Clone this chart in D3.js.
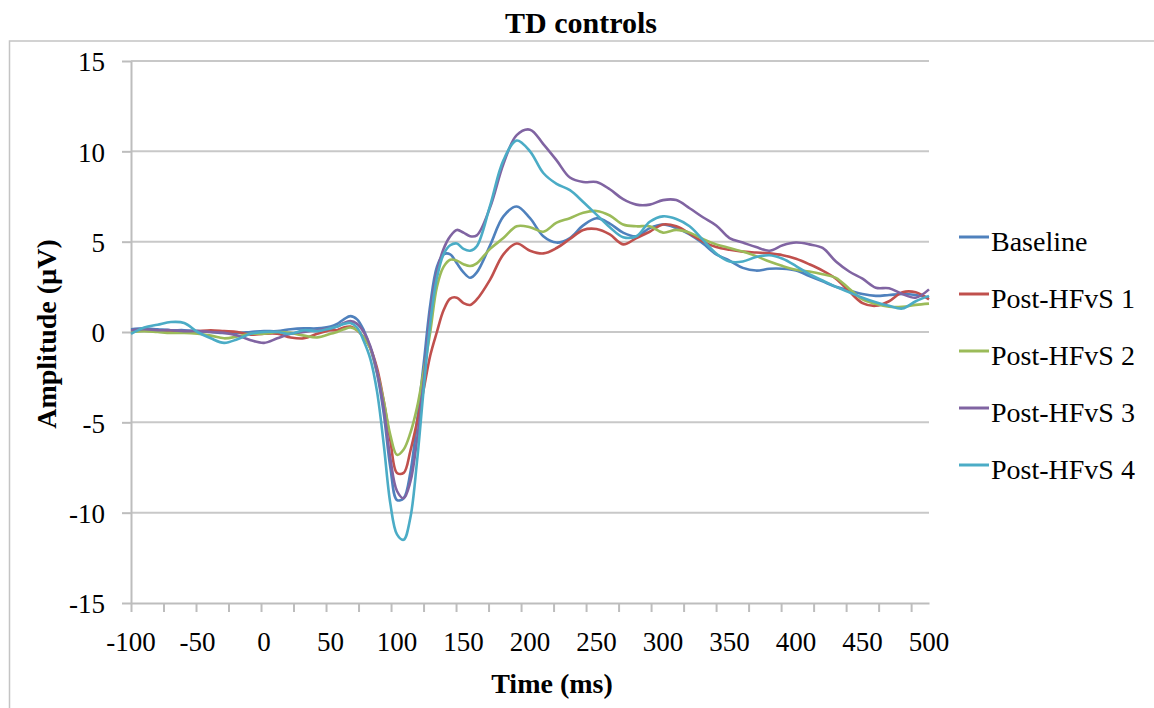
<!DOCTYPE html>
<html>
<head>
<meta charset="utf-8">
<script src="https://cdn.jsdelivr.net/npm/d3@7"></script>
<style>
  body { margin: 0; background: #fff; }
  svg text { font-family: "Liberation Serif", "Times New Roman", Times, serif; fill: #000; }
</style>
</head>
<body>
<div id="chart"></div>
<script>
// time points (ms)
const times = [-100,-90,-80,-70,-60,-50,-40,-30,-20,-10,0,10,20,30,40,50,
  55,60,65,70,75,80,85,90,95,100,105,110,115,120,125,130,135,140,145,150,155,160,
  170,180,190,200,210,220,230,240,250,260,270,280,290,300,310,320,330,340,350,360,
  370,380,390,400,410,420,430,440,450,460,470,480,490,500];

const baseline = [0.15,0.2,0.15,0.1,0.1,0.05,0.0,-0.05,-0.05,0.0,0.05,0.05,0.15,0.2,0.2,0.3,
  0.45,0.7,0.88,0.7,0.1,-0.9,-2.3,-4.5,-7.5,-9.3,-9.2,-7.8,-5.0,-1.8,1.5,3.6,4.3,4.3,3.8,3.3,3.0,3.3,
  4.8,6.4,6.95,6.3,5.3,4.95,5.2,5.9,6.3,6.0,5.5,5.3,5.75,5.95,5.75,5.4,4.9,4.3,3.95,3.55,
  3.4,3.5,3.5,3.4,3.1,2.8,2.5,2.3,2.1,2.0,2.05,2.1,2.05,1.9];

const post1 = [0.05,0.1,0.05,0.05,0.0,0.05,0.1,0.05,0.0,-0.15,-0.1,-0.1,-0.3,-0.35,-0.1,0.1,
  0.1,0.25,0.3,0.1,-0.3,-0.9,-2.0,-3.8,-6.0,-7.8,-7.8,-6.6,-5.0,-3.2,-1.3,0.0,1.2,1.85,1.9,1.6,1.5,1.8,
  2.9,4.3,4.9,4.5,4.35,4.65,5.15,5.65,5.7,5.4,4.85,5.2,5.55,5.95,5.85,5.45,5.0,4.7,4.55,4.45,
  4.4,4.35,4.25,4.05,3.75,3.4,2.95,2.25,1.6,1.45,1.7,2.2,2.2,1.8];

const post2 = [0.0,0.05,0.0,-0.05,-0.05,-0.1,-0.2,-0.35,-0.25,-0.1,-0.1,0.0,-0.05,-0.2,-0.3,-0.1,
  0.0,0.15,0.25,0.1,-0.3,-0.9,-2.2,-3.8,-5.7,-6.8,-6.5,-5.6,-4.2,-2.2,0.0,2.5,3.6,4.0,3.95,3.75,3.65,3.8,
  4.6,5.2,5.85,5.8,5.55,6.05,6.3,6.6,6.7,6.45,5.95,5.85,5.85,5.5,5.65,5.5,5.15,4.85,4.65,4.45,
  4.2,3.9,3.65,3.45,3.35,3.2,3.0,2.4,1.8,1.55,1.4,1.4,1.5,1.57];

const post3 = [0.1,0.15,0.1,0.1,0.05,0.05,0.0,-0.05,-0.2,-0.45,-0.6,-0.35,-0.1,0.0,0.1,0.2,
  0.3,0.5,0.6,0.45,0.0,-0.8,-2.2,-4.2,-7.0,-8.8,-9.2,-8.3,-6.0,-2.8,1.0,3.3,4.6,5.3,5.65,5.5,5.3,5.35,
  6.9,9.3,10.9,11.2,10.4,9.5,8.55,8.3,8.3,7.9,7.35,7.05,7.05,7.3,7.3,6.85,6.35,5.9,5.2,4.95,
  4.7,4.5,4.8,4.95,4.85,4.65,3.9,3.35,2.95,2.45,2.42,2.1,1.9,2.36];

const post4 = [-0.1,0.25,0.4,0.55,0.5,0.0,-0.35,-0.6,-0.4,-0.1,0.0,0.0,-0.1,0.1,0.05,0.2,
  0.3,0.45,0.5,0.25,-0.5,-1.5,-3.3,-6.2,-9.5,-11.2,-11.5,-10.3,-7.2,-3.2,0.5,3.0,4.3,4.8,4.9,4.6,4.5,4.75,
  7.0,9.5,10.6,10.0,8.8,8.2,7.85,7.2,6.5,5.8,5.25,5.3,6.1,6.4,6.25,5.85,5.1,4.35,3.9,3.9,
  4.15,4.25,4.05,3.65,3.2,2.85,2.5,2.2,1.9,1.65,1.45,1.3,1.7,2.0];

const seriesNames = ["Baseline", "Post-HFvS 1", "Post-HFvS 2", "Post-HFvS 3", "Post-HFvS 4"];
const seriesValues = [baseline, post1, post2, post3, post4];
const seriesColors = ["#4f81bd", "#c0504d", "#9bbb59", "#8064a2", "#4bacc6"];

const yTicks = [-15, -10, -5, 0, 5, 10, 15];
const xLabels = [-100, -50, 0, 50, 100, 150, 200, 250, 300, 350, 400, 450, 500];
const xTickStep = 24.44; // tick marks of the category axis

const W = 1154, H = 708;
const plot = { left: 131, right: 929, top: 61, bottom: 603 };
const serif = "Liberation Serif";

const svg = d3.select("#chart").append("svg")
  .attr("width", W).attr("height", H);

// outer chart frame
svg.append("rect")
  .attr("x", 9.5).attr("y", 41)
  .attr("width", W + 20).attr("height", H)
  .attr("fill", "none").attr("stroke", "#c4c4c4").attr("stroke-width", 1.5);

svg.append("text")
  .attr("x", 581).attr("y", 33)
  .attr("text-anchor", "middle")
  .attr("font-family", serif)
  .style("font-size", "30px").style("font-weight", "bold")
  .text("TD controls");

const x = d3.scaleLinear().domain([-100, 500]).range([plot.left, plot.right]);
const y = d3.scaleLinear().domain([-15, 15]).range([plot.bottom, plot.top]);

// gridlines
svg.append("g")
  .selectAll("line")
  .data(yTicks.filter(d => d > -15))
  .join("line")
  .attr("x1", plot.left).attr("x2", plot.right)
  .attr("y1", d => y(d)).attr("y2", d => y(d))
  .attr("stroke", "#c8c8c8").attr("stroke-width", 2);

// y axis
const yAxis = svg.append("g")
  .attr("transform", `translate(${plot.left},0)`)
  .call(d3.axisLeft(y).tickValues(yTicks).tickFormat(d => String(d))
    .tickSize(9).tickPadding(17).tickSizeOuter(0));
yAxis.attr("font-family", serif);
yAxis.select(".domain").attr("stroke", "#bdbdbd").attr("stroke-width", 2);
yAxis.selectAll(".tick line").attr("stroke", "#bdbdbd").attr("stroke-width", 2);
yAxis.selectAll(".tick text")
  .attr("dy", "0.36em")
  .attr("font-family", serif)
  .style("font-size", "27px");

// x axis
const xTickVals = d3.range(0, 25).map(k => -100 + k * xTickStep);
const xAxis = svg.append("g")
  .attr("transform", `translate(0,${plot.bottom})`)
  .call(d3.axisBottom(x).tickValues(xTickVals).tickSize(9).tickFormat("").tickSizeOuter(0));
xAxis.select(".domain").attr("stroke", "#bdbdbd").attr("stroke-width", 2);
xAxis.selectAll(".tick line").attr("stroke", "#bdbdbd").attr("stroke-width", 2);

svg.append("g")
  .selectAll("text")
  .data(xLabels)
  .join("text")
  .attr("x", d => x(d)).attr("y", 651)
  .attr("text-anchor", "middle")
  .attr("font-family", serif)
  .style("font-size", "27px")
  .text(d => String(d));

// axis titles
svg.append("text")
  .attr("x", 552).attr("y", 693)
  .attr("text-anchor", "middle")
  .attr("font-family", serif)
  .style("font-size", "28px").style("font-weight", "bold")
  .text("Time (ms)");

svg.append("text")
  .attr("transform", `translate(56,${(plot.top + plot.bottom) / 2 + 2}) rotate(-90)`)
  .attr("text-anchor", "middle")
  .attr("font-family", serif)
  .style("font-size", "28px").style("font-weight", "bold")
  .text("Amplitude (µV)");

// series lines
const line = d3.line()
  .x((d, i) => x(times[i]))
  .y(d => y(d))
  .curve(d3.curveCatmullRom.alpha(0.5));

svg.append("g")
  .selectAll("path")
  .data(seriesValues)
  .join("path")
  .attr("d", d => line(d))
  .attr("fill", "none")
  .attr("stroke", (d, i) => seriesColors[i])
  .attr("stroke-width", 2.6)
  .attr("stroke-linejoin", "round");

// legend
const legend = svg.append("g")
  .selectAll("g")
  .data(seriesNames)
  .join("g")
  .attr("transform", (d, i) => `translate(959,${237 + i * 57})`);

legend.append("line")
  .attr("x1", 0).attr("x2", 30)
  .attr("stroke", (d, i) => seriesColors[i])
  .attr("stroke-width", 3);

legend.append("text")
  .attr("x", 32).attr("y", 13.5)
  .attr("font-family", serif)
  .style("font-size", "28px")
  .text(d => d);
</script>
</body>
</html>
